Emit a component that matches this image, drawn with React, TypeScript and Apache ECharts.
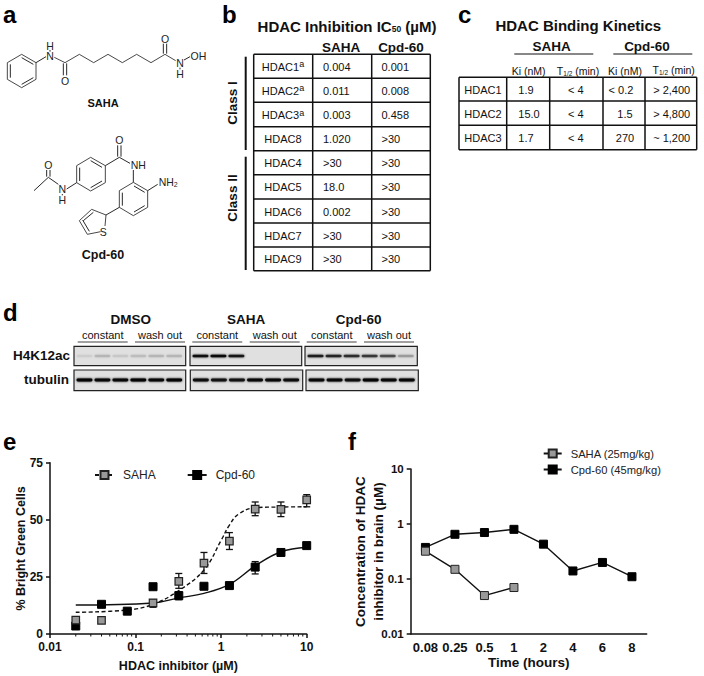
import React, { useEffect, useRef } from "react";
import * as echarts from "echarts";

const FONT = "'Liberation Sans', Arial, sans-serif";

// ---- panel e (the SAHA point at 0.08 is hidden behind the black one in the picture)
const doseE = [0.02, 0.04, 0.08, 0.16, 0.32, 0.63, 1.25, 2.5, 5, 10];
const sahaE = [6.1, 6, null, 13.6, 23, 31, 40.7, 54.7, 54.6, 58.7];
const sahaLow = [5, 5, null, 11.7, 20, 26.5, 37, 51.8, 51.4, 55.7];
const sahaHigh = [7, 7, null, 15, 26.5, 35.7, 44.4, 57.8, 57.8, 61];
const cpdE = [3.5, 13, 10, 20.7, 16.8, 20.9, 21.2, 29.3, 35.7, 38.7];
const cpdLow = [3, 12, 9, 20, 15, 20, 20.5, 26.3, 35, 38];
const cpdHigh = [4, 14, 11, 21.5, 18.5, 21.5, 22, 31.7, 36.5, 39.5];
const fitXSaha = [0.02, 0.08, 0.16, 0.32, 0.63, 1, 1.25, 1.6, 2.5, 5, 10];
const fitYSaha = [9.5, 10.5, 13, 19, 28, 41, 47.7, 52.5, 55.3, 55.6, 55.7];
const fitXCpd = [0.02, 0.16, 0.32, 0.63, 1.25, 2.5, 5, 10];
const fitYCpd = [12.7, 13.6, 15.8, 17.8, 21.7, 29.8, 36, 38];
const minorX = [
  0.02, 0.03, 0.04, 0.05, 0.06, 0.07, 0.08, 0.09, 0.2, 0.3, 0.4, 0.5, 0.6, 0.7, 0.8, 0.9, 2, 3, 4, 5, 6, 7, 8, 9,
];

// ---- panel f
const timeLabels = ["0.08", "0.25", "0.5", "1", "2", "4", "6", "8"];
const sahaF = [0.32, 0.15, 0.05, 0.07];
const cpdF = [0.375, 0.65, 0.7, 0.8, 0.43, 0.14, 0.2, 0.11];

// ---- panel b
const hdacB = ["HDAC1", "HDAC2", "HDAC3", "HDAC8", "HDAC4", "HDAC5", "HDAC6", "HDAC7", "HDAC9"];
const supB = ["a", "a", "a", "", "", "", "", "", ""];
const sahaB = ["0.004", "0.011", "0.003", "1.020", ">30", "18.0", "0.002", ">30", ">30"];
const cpdB = ["0.001", "0.008", "0.458", ">30", ">30", ">30", ">30", ">30", ">30"];

// ---- panel c
const hdacC = ["HDAC1", "HDAC2", "HDAC3"];
const sahaKi = ["1.9", "15.0", "1.7"];
const sahaT = ["< 4", "< 4", "< 4"];
const cpdKi = ["< 0.2", "1.5", "270"];
const cpdT = ["> 2,400", "> 4,800", "~ 1,200"];

// ---- panel d, band strengths per lane
const histoneBands = [
  [0.05, 0.12, 0.07, 0.1, 0.12, 0.12],
  [0.85, 0.9, 0.8, 0, 0, 0],
  [0.75, 0.7, 0.65, 0.6, 0.5, 0.2],
];
const tubulinBands = [
  [0.95, 0.9, 0.9, 0.95, 0.9, 0.95],
  [0.85, 0.8, 0.8, 0.9, 0.9, 0.85],
  [0.9, 0.9, 0.85, 0.95, 0.9, 0.9],
];
const blotGroups = ["DMSO", "SAHA", "Cpd-60"];

const T = (text: string, x: number, y: number, o: any = {}) => ({
  type: "text",
  x,
  y,
  silent: true,
  style: {
    text,
    fontFamily: FONT,
    fontSize: o.size ?? 11,
    fontWeight: o.bold ? "bold" : "normal",
    fill: o.fill ?? "#111",
    align: o.align ?? "center",
    verticalAlign: "middle",
    rich: o.rich,
  },
  rotation: o.rotation ?? 0,
});

const L = (x1: number, y1: number, x2: number, y2: number, w = 1.5, dash?: number[]) => ({
  type: "line",
  silent: true,
  shape: { x1, y1, x2, y2 },
  style: { stroke: "#111", lineWidth: w, lineDash: dash },
});

function gridLines(xs: number[], ys: number[], w = 1.5) {
  const out: any[] = [];
  xs.forEach((x) => out.push(L(x, ys[0], x, ys[ys.length - 1], w)));
  ys.forEach((y) => out.push(L(xs[0], y, xs[xs.length - 1], y, w)));
  return out;
}

// molecules are traced in 3x coordinates and scaled down
const poly = (pts: number[][], w = 0.9) => ({
  type: "polyline",
  silent: true,
  shape: { points: pts.map(([x, y]) => [x / 3, y / 3]) },
  style: { stroke: "#333", lineWidth: w, fill: "none" },
});
const bond = (x1: number, y1: number, x2: number, y2: number, dash?: number[]) =>
  L(x1 / 3, y1 / 3, x2 / 3, y2 / 3, 0.9, dash);
const atom = (s: string, x: number, y: number, extra: any = {}) => T(s, x / 3, y / 3, { size: 10.5, fill: "#222", ...extra });

function molecules() {
  return [
    // SAHA
    poly([[65, 163], [108, 188], [108, 238], [65, 263], [22, 238], [22, 188], [65, 163]]),
    bond(31, 193, 31, 233),
    bond(65, 253, 100, 233),
    bond(65, 173, 100, 193),
    bond(108, 188, 138, 170),
    atom("N", 150, 169),
    atom("H", 150, 137),
    bond(150, 150, 150, 155),
    poly([[163, 172], [195, 188], [238, 163], [281, 188], [324, 163], [367, 188], [410, 163], [453, 188], [495, 163], [527, 182]]),
    bond(190, 190, 190, 226),
    bond(200, 190, 200, 226),
    atom("O", 195, 242),
    bond(490, 161, 490, 131),
    bond(500, 161, 500, 131),
    atom("O", 495, 116),
    atom("N", 540, 189),
    atom("H", 540, 223),
    bond(540, 203, 540, 208),
    bond(552, 180, 570, 170),
    atom("OH", 595, 168),
    // Cpd-60
    poly([[272, 472], [316, 497], [316, 548], [272, 573], [230, 548], [230, 497], [272, 472]]),
    bond(272, 482, 306, 502),
    bond(306, 543, 272, 563),
    bond(239, 503, 239, 543),
    bond(316, 497, 358, 472),
    bond(353, 470, 353, 436),
    bond(363, 470, 363, 436),
    atom("O", 358, 421),
    bond(358, 472, 390, 490),
    atom("NH", 415, 495),
    bond(400, 510, 400, 547),
    poly([[400, 547], [443, 572], [443, 622], [400, 647], [358, 622], [358, 572], [400, 547]]),
    bond(402, 558, 434, 577),
    bond(434, 617, 402, 636),
    bond(367, 578, 367, 617),
    bond(443, 572, 473, 553),
    T("{n|NH}{s|2}", 476 / 3, 547 / 3, {
      size: 10.5,
      align: "left",
      fill: "#222",
      rich: {
        n: { fontFamily: FONT, fontSize: 10.5, fill: "#222" },
        s: { fontFamily: FONT, fontSize: 7, fill: "#222", verticalAlign: "middle", padding: [5, 0, 0, 0] },
      },
    }),
    bond(358, 622, 318, 645),
    poly([[302, 695], [262, 703], [238, 662], [275, 628], [318, 645], [315, 678]]),
    bond(250, 662, 280, 637),
    bond(268, 694, 248, 660),
    atom("S", 310, 695),
    bond(230, 548, 200, 567),
    atom("N", 187, 568),
    atom("H", 187, 601),
    bond(187, 582, 187, 586),
    bond(175, 553, 145, 532),
    bond(145, 532, 102, 572),
    bond(140, 530, 140, 510),
    bond(150, 530, 150, 510),
    atom("O", 145, 495),
    T("SAHA", 103, 103, { bold: true, size: 11 }),
    T("Cpd-60", 103, 255, { bold: true, size: 12.5 }),
  ];
}

function tableB() {
  const xs = [253.7, 312.7, 371.7, 430.3];
  const ys = [54.3, 78.3, 102.3, 126.7, 150.7, 174.7, 199, 223, 247, 270.7];
  const rich = {
    b: { fontFamily: FONT, fontSize: 15, fontWeight: "bold", fill: "#111" },
    u: { fontFamily: FONT, fontSize: 8.5, fontWeight: "bold", fill: "#111", verticalAlign: "middle", padding: [6, 0, 0, 0] },
  };
  const richSup = {
    n: { fontFamily: FONT, fontSize: 11, fill: "#111" },
    s: { fontFamily: FONT, fontSize: 9, fill: "#111", verticalAlign: "middle", padding: [0, 0, 5, 0] },
  };
  const out: any[] = [
    T("{b|HDAC Inhibition IC}{u|50}{b| (µM)}", 347, 26, { align: "center", rich }),
    T("SAHA", 341, 47, { bold: true, size: 13.5 }),
    T("Cpd-60", 401, 47, { bold: true, size: 13.5 }),
    ...gridLines(xs, ys),
    L(245.7, 56.7, 245.7, 150, 2),
    L(245.7, 156.7, 245.7, 270, 2),
    T("Class I", 232, 103, { bold: true, size: 13.5, rotation: Math.PI / 2 }),
    T("Class II", 232, 198, { bold: true, size: 13.5, rotation: Math.PI / 2 }),
  ];
  hdacB.forEach((h, i) => {
    const y = (ys[i] + ys[i + 1]) / 2 + 0.5;
    out.push(
      supB[i]
        ? T(`{n|${h}}{s|${supB[i]}}`, 283, y, { rich: richSup })
        : T(h, 283, y),
      T(sahaB[i], 323, y, { align: "left" }),
      T(cpdB[i], 381.5, y, { align: "left" }),
    );
  });
  return out;
}

function tableC() {
  const xs = [459, 506.7, 549.7, 603, 645, 696.7];
  const ys = [77.3, 101, 125.3, 149.7];
  const half = {
    n: { fontFamily: FONT, fontSize: 10.5, fill: "#111" },
    s: { fontFamily: FONT, fontSize: 6.5, fill: "#111", verticalAlign: "middle", padding: [4, 0, 0, 0] },
  };
  const out: any[] = [
    T("HDAC Binding Kinetics", 578.3, 25, { bold: true, size: 15 }),
    T("SAHA", 551.7, 46, { bold: true, size: 13.5 }),
    T("Cpd-60", 647, 46, { bold: true, size: 13.5 }),
    L(514.3, 54, 593.3, 54, 1),
    L(613.3, 54, 692.3, 54, 1),
    T("Ki (nM)", 528.7, 71, { size: 10.5 }),
    T("{n|T}{s|1/2}{n| (min)}", 578, 71, { rich: half }),
    T("Ki (nM)", 625, 71, { size: 10.5 }),
    T("{n|T}{s|1/2}{n| (min)}", 673.7, 70, { rich: half }),
    ...gridLines(xs, ys),
  ];
  hdacC.forEach((h, i) => {
    const y = (ys[i] + ys[i + 1]) / 2 + 0.5;
    out.push(
      T(h, 483, y),
      T(sahaKi[i], i === 1 ? 529 : 526, y),
      T(sahaT[i], 575.7, y),
      T(cpdKi[i], i === 0 ? 621 : 625, y),
      T(cpdT[i], 671.7, y),
    );
  });
  return out;
}

function blot() {
  const out: any[] = [];
  const boxesTop = [[74, 185.7], [190, 301.7], [305, 417.3]];
  const boxesBot = [[74, 185.7], [190.3, 302.7], [306, 418.3]];
  const draw = (box: number[], y0: number, y1: number, bands: number[], by: number, h: number) => {
    out.push({
      type: "rect",
      silent: true,
      shape: { x: box[0], y: y0, width: box[1] - box[0], height: y1 - y0 },
      style: { fill: "#e0e0e0", stroke: "#222", lineWidth: 1.2 },
    });
    const step = (box[1] - box[0] - 4) / 6;
    bands.forEach((v, i) => {
      if (!v) return;
      out.push({
        type: "rect",
        silent: true,
        shape: { x: box[0] + 2.5 + i * step, y: by - h / 2, width: step - 2, height: h, r: h / 2 },
        style: { fill: "#000", opacity: v, shadowBlur: 2, shadowColor: "#000" },
      });
    });
  };
  boxesTop.forEach((b, i) => draw(b, 346.3, 365.7, histoneBands[i], 356, 2.4));
  boxesBot.forEach((b, i) => draw(b, 370, 390.7, tubulinBands[i], 380, 2.8));
  const groupX = [130.7, 246, 358.7];
  const constX = [102.7, 217.3, 331.7];
  const washX = [160, 274.7, 389];
  blotGroups.forEach((g, i) => {
    out.push(
      T(g, groupX[i], 319, { bold: true, size: 13.5 }),
      T("constant", constX[i], 334.5, { size: 11 }),
      T("wash out", washX[i], 334.5, { size: 11 }),
      L(constX[i] - 25, 342, constX[i] + 25, 342, 0.8),
      L(washX[i] - 25, 342, washX[i] + 25, 342, 0.8),
    );
  });
  out.push(
    T("H4K12ac", 70, 355.5, { bold: true, size: 13.5, align: "right" }),
    T("tubulin", 69, 379.5, { bold: true, size: 13.5, align: "right" }),
  );
  return out;
}

const panelLabel = (s: string, x: number, y: number) => T(s, x, y, { bold: true, size: 24, align: "left", fill: "#000" });

const errorSeries = (name: string, low: any[], high: any[], color: string) => ({
  type: "custom",
  name,
  xAxisIndex: 0,
  yAxisIndex: 0,
  silent: true,
  z: 3,
  data: doseE.map((x, i) => [x, low[i], high[i]]).filter((d) => d[1] != null),
  encode: { x: 0, y: [1, 2] },
  renderItem: (_: any, api: any) => {
    const lo = api.coord([api.value(0), api.value(1)]);
    const hi = api.coord([api.value(0), api.value(2)]);
    const s = { stroke: color, lineWidth: 1.3 };
    return {
      type: "group",
      children: [
        { type: "line", shape: { x1: lo[0], y1: lo[1], x2: hi[0], y2: hi[1] }, style: s },
        { type: "line", shape: { x1: lo[0] - 3.5, y1: lo[1], x2: lo[0] + 3.5, y2: lo[1] }, style: s },
        { type: "line", shape: { x1: hi[0] - 3.5, y1: hi[1], x2: hi[0] + 3.5, y2: hi[1] }, style: s },
      ],
    };
  },
});

const axisBits = {
  axisLine: { show: true, onZero: false, lineStyle: { color: "#111", width: 1.5 } },
  axisTick: { show: true, length: 4, lineStyle: { color: "#111", width: 1.5 } },
  splitLine: { show: false },
};
const labelStyle = { fontFamily: FONT, fontSize: 12, fontWeight: "bold" as const, color: "#111" };

export default function App() {
  const ref = useRef<HTMLDivElement>(null);
  useEffect(() => {
    document.body.style.margin = "0";
    const chart = echarts.init(ref.current!, undefined, { renderer: "svg" });
    chart.setOption({
      animation: false,
      backgroundColor: "#fff",
      grid: [
        { left: 50, top: 462.7, width: 256.7, height: 171.3 },
        { left: 410.7, top: 469, width: 236, height: 165 },
      ],
      xAxis: [
        {
          type: "log",
          gridIndex: 0,
          min: 0.01,
          max: 10,
          logBase: 10,
          ...axisBits,
          axisLabel: { ...labelStyle, margin: 7, formatter: (v: number) => String(+v.toPrecision(2)) },
          name: "HDAC inhibitor (µM)",
          nameLocation: "middle",
          nameGap: 25,
          nameMoveOverlap: false,
          nameTextStyle: { ...labelStyle, fontSize: 12.5 },
        },
        {
          type: "category",
          gridIndex: 1,
          data: timeLabels,
          boundaryGap: true,
          ...axisBits,
          axisTick: { show: false },
          axisLabel: { ...labelStyle, fontSize: 13, margin: 7, interval: 0 },
          name: "Time (hours)",
          nameLocation: "middle",
          nameGap: 21,
          nameMoveOverlap: false,
          nameTextStyle: { ...labelStyle, fontSize: 13.5 },
        },
      ],
      yAxis: [
        {
          type: "value",
          gridIndex: 0,
          min: 0,
          max: 75,
          interval: 25,
          ...axisBits,
          axisLabel: { ...labelStyle, margin: 7 },
          name: "% Bright Green Cells",
          nameLocation: "middle",
          nameGap: 23,
          nameMoveOverlap: false,
          nameTextStyle: { ...labelStyle, fontSize: 12.5 },
        },
        {
          type: "log",
          gridIndex: 1,
          min: 0.01,
          max: 10,
          logBase: 10,
          ...axisBits,
          axisLabel: { ...labelStyle, fontSize: 11.5, margin: 7, formatter: (v: number) => String(+v.toPrecision(2)) },
          name: "Concentration of HDAC\ninhibitor in brain (µM)",
          nameLocation: "middle",
          nameGap: 23,
          nameMoveOverlap: false,
          nameTextStyle: { ...labelStyle, fontSize: 13.5, lineHeight: 18 },
        },
      ],
      legend: [
        {
          data: ["SAHA", "Cpd-60"],
          orient: "horizontal",
          left: 94,
          top: 469,
          itemWidth: 19,
          itemHeight: 10,
          itemGap: 31,
          padding: 0,
          selectedMode: false,
          textStyle: { fontFamily: FONT, fontSize: 12, color: "#222", padding: [0, 0, 0, 4] },
        },
        {
          data: ["SAHA (25mg/kg)", "Cpd-60 (45mg/kg)"],
          orient: "vertical",
          left: 542.7,
          top: 448,
          itemWidth: 18,
          itemHeight: 10,
          itemGap: 5,
          padding: 0,
          selectedMode: false,
          textStyle: { fontFamily: FONT, fontSize: 11.2, color: "#222", padding: [0, 0, 0, 4] },
        },
      ],
      series: [
        {
          type: "custom",
          name: "minor",
          xAxisIndex: 0,
          yAxisIndex: 0,
          silent: true,
          clip: false,
          data: minorX.map((x) => [x, 0]),
          encode: { x: 0, y: 1 },
          renderItem: (_: any, api: any) => {
            const p = api.coord([api.value(0), 0]);
            return {
              type: "line",
              shape: { x1: p[0], y1: p[1], x2: p[0], y2: p[1] + 2.5 },
              style: { stroke: "#111", lineWidth: 1 },
            };
          },
        },
        {
          type: "line",
          name: "SAHA",
          xAxisIndex: 0,
          yAxisIndex: 0,
          data: fitXSaha.map((x, i) => [x, fitYSaha[i]]),
          smooth: 0.4,
          showSymbol: false,
          symbol: "rect",
          symbolSize: 8,
          itemStyle: { color: "#999", borderColor: "#222", borderWidth: 1 },
          lineStyle: { color: "#111", width: 1.4, type: [4, 2.5] },
          z: 2,
        },
        {
          type: "line",
          name: "Cpd-60",
          xAxisIndex: 0,
          yAxisIndex: 0,
          data: fitXCpd.map((x, i) => [x, fitYCpd[i]]),
          smooth: 0.4,
          showSymbol: false,
          symbol: "rect",
          symbolSize: 8,
          itemStyle: { color: "#000", borderColor: "#000", borderWidth: 1 },
          lineStyle: { color: "#111", width: 1.4 },
          z: 2,
        },
        errorSeries("SAHA err", sahaLow, sahaHigh, "#111"),
        errorSeries("Cpd-60 err", cpdLow, cpdHigh, "#111"),
        {
          type: "scatter",
          name: "Cpd-60 points",
          xAxisIndex: 0,
          yAxisIndex: 0,
          data: doseE.map((x, i) => [x, cpdE[i]]),
          symbol: "rect",
          symbolSize: 8,
          itemStyle: { color: "#000", borderColor: "#000", borderWidth: 1, opacity: 1 },
          z: 4,
        },
        {
          type: "scatter",
          name: "SAHA points",
          xAxisIndex: 0,
          yAxisIndex: 0,
          data: doseE.map((x, i) => [x, sahaE[i]]).filter((d) => d[1] != null),
          symbol: "rect",
          symbolSize: 7.5,
          itemStyle: { color: "#999", borderColor: "#222", borderWidth: 1.2, opacity: 1 },
          z: 5,
        },
        {
          type: "line",
          name: "Cpd-60 (45mg/kg)",
          xAxisIndex: 1,
          yAxisIndex: 1,
          data: cpdF,
          symbol: "rect",
          symbolSize: 8,
          itemStyle: { color: "#000", borderColor: "#000", borderWidth: 1 },
          lineStyle: { color: "#111", width: 1.4 },
          z: 3,
        },
        {
          type: "line",
          name: "SAHA (25mg/kg)",
          xAxisIndex: 1,
          yAxisIndex: 1,
          data: sahaF,
          symbol: "rect",
          symbolSize: 8,
          itemStyle: { color: "#999", borderColor: "#222", borderWidth: 1 },
          lineStyle: { color: "#111", width: 1.4 },
          z: 4,
        },
      ],
      graphic: {
        elements: [
          panelLabel("a", 3, 14),
          panelLabel("b", 222, 14),
          panelLabel("c", 458, 14),
          panelLabel("d", 3, 312),
          panelLabel("e", 3, 441),
          panelLabel("f", 348, 441),
          ...molecules(),
          ...tableB(),
          ...tableC(),
          ...blot(),
        ],
      },
    });
    return () => chart.dispose();
  }, []);
  return <div ref={ref} style={{ width: 704, height: 676 }} />;
}
